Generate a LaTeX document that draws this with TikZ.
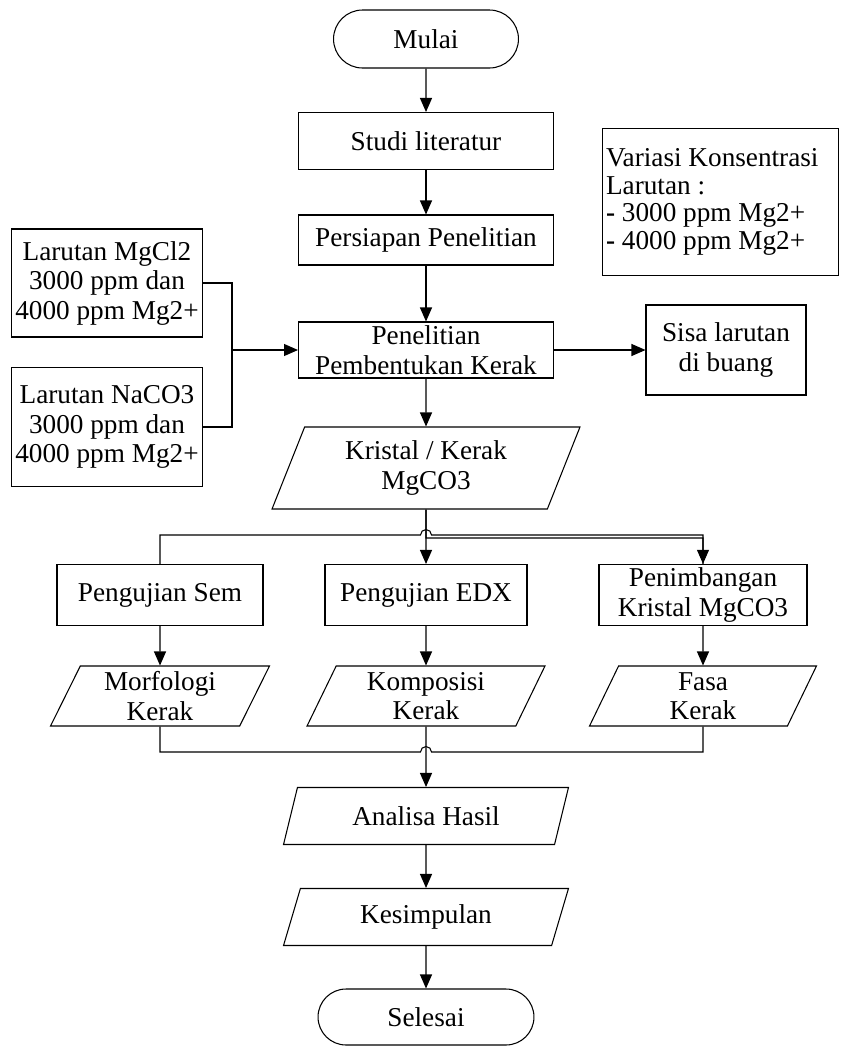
\documentclass[tikz,border=0pt]{standalone}
\usepackage{fontspec}
\setmainfont{Liberation Serif}
\usetikzlibrary{arrows.meta, positioning, shapes.geometric, shapes.misc}

\begin{document}
\begin{tikzpicture}[
  x=0.02cm, y=-0.02cm,
  base/.style={draw, line width=0.6pt, inner sep=2pt, align=center,
               font=\fontsize{15.5}{16.8}\selectfont},
  proc/.style={base, rectangle},
  term/.style={base, rounded rectangle},
  io/.style={base, trapezium, trapezium left angle=62, trapezium right angle=118,
             trapezium stretches body},
  note/.style={base, rectangle, align=flush left, anchor=north west,
               text width=4.72cm-4pt, font=\fontsize{15.5}{15.6}\selectfont},
  conn/.style={line width=0.6pt},
  arr/.style={conn, -{Triangle[length=0.28cm, width=0.24cm]}}
]
\useasboundingbox (0,0) rectangle (840,1046);

% main column
\node[term, minimum width=3.84cm, minimum height=1.16cm] (mulai) at (426,39) {Mulai};
\node[proc, minimum width=5.1cm, minimum height=1.14cm] (studi) at (426,141) {Studi literatur};
\node[proc, minimum width=5.1cm, minimum height=1.0cm] (persiapan) at (426,240) {Persiapan Penelitian};
\node[proc, minimum width=5.1cm, minimum height=1.12cm] (penelitian) at (426,350) {Penelitian\\Pembentukan Kerak};
\node[io, minimum width=6.16cm, minimum height=1.64cm] (kristal) at (426,468) {Kristal / Kerak\\MgCO3};

% side boxes
\node[note, minimum height=2.94cm] (variasi) at (602,128)
  {Variasi Konsentrasi\\Larutan :\\\textbf{-} 3000 ppm Mg2+\\\textbf{-} 4000 ppm Mg2+};
\node[proc, minimum width=3.2cm, minimum height=1.8cm] (sisa) at (726,350) {Sisa larutan\\di buang};
\node[proc, minimum width=3.8cm, minimum height=2.16cm] (mgcl) at (107,283) {Larutan MgCl2\\3000 ppm dan\\4000 ppm Mg2+};
\node[proc, minimum width=3.8cm, minimum height=2.38cm] (naco) at (107,427) {Larutan NaCO3\\3000 ppm dan\\4000 ppm Mg2+};

% tests
\node[proc, minimum width=4.12cm, minimum height=1.22cm] (sem) at (160,595) {Pengujian Sem};
\node[proc, minimum width=4.04cm, minimum height=1.22cm] (edx) at (426,595) {Pengujian EDX};
\node[proc, minimum width=4.16cm, minimum height=1.22cm] (timbang) at (703,595) {Penimbangan\\Kristal MgCO3};
\node[io, minimum width=4.38cm, minimum height=1.2cm] (morf) at (160,696) {Morfologi\\Kerak};
\node[io, minimum width=4.76cm, minimum height=1.2cm] (komp) at (426,696) {Komposisi\\Kerak};
\node[io, minimum width=4.54cm, minimum height=1.2cm] (fasa) at (703,696) {Fasa\\Kerak};

% end
\node[io, minimum width=5.7cm, minimum height=1.14cm] (analisa) at (426,816) {Analisa Hasil};
\node[io, minimum width=5.7cm, minimum height=1.14cm] (simpul) at (426,917) {Kesimpulan};
\node[term, minimum width=4.46cm, minimum height=1.12cm] (selesai) at (426,1017) {Selesai};

% connectors
\draw[arr] (mulai) -- (studi);
\draw[arr] (studi) -- (persiapan);
\draw[arr] (persiapan) -- (penelitian);
\draw[arr] (penelitian.south) -- (kristal.north);
\draw[arr] (penelitian.east) -- (sisa.west);

\coordinate (gabung) at (232,350);
\draw[conn] (mgcl.east) -| (gabung);
\draw[conn] (naco.east) -| (gabung);
\draw[arr] (gabung) -- (penelitian.west);

\draw[arr] (kristal.south) -- (edx.north);
\draw[conn] (sem.north) |- (420.5,535) arc[start angle=180, end angle=0, radius=0.11cm]
  -- (703,535) -- (timbang.north);
\draw[arr] (kristal.south) -- (426,538) -| (timbang.north);

\draw[arr] (sem) -- (morf);
\draw[arr] (edx) -- (komp);
\draw[arr] (timbang) -- (fasa);

\draw[conn] (morf.south) |- (420.5,752) arc[start angle=180, end angle=0, radius=0.11cm]
  -- (703,752) -- (fasa.south);
\draw[arr] (komp.south) -- (analisa.north);
\draw[arr] (analisa) -- (simpul);
\draw[arr] (simpul) -- (selesai);
\end{tikzpicture}
\end{document}
